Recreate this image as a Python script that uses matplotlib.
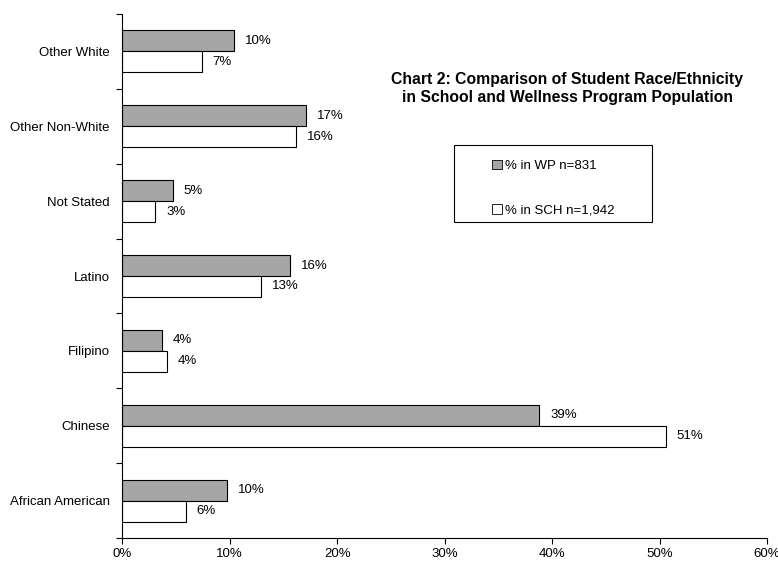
import numpy as np
import matplotlib.pyplot as plt
from matplotlib.patches import Patch, Rectangle

plt.rcParams['font.family'] = ['Liberation Sans', 'DejaVu Sans']

# Données (de bas en haut)
categories = ['African American', 'Chinese', 'Filipino', 'Latino', 'Not Stated',
              'Other Non-White', 'Other White']
wp = [9.8, 38.8, 3.7, 15.6, 4.7, 17.1, 10.4]
sch = [5.9, 50.6, 4.2, 12.9, 3.1, 16.2, 7.4]
wp_label = '% in WP n=831'
sch_label = '% in SCH n=1,942'

fig = plt.figure(figsize=(7.78, 5.61), dpi=100)
ax = fig.add_axes([0.157, 0.041, 0.829, 0.934])

y = np.arange(len(categories))
h = 0.28
ax.barh(y + h / 2, wp, height=h, color='#a6a6a6', edgecolor='black', linewidth=0.8)
ax.barh(y - h / 2, sch, height=h, color='white', edgecolor='black', linewidth=0.8)

for i in range(len(categories)):
    ax.text(wp[i] + 1.0, y[i] + h / 2, '%d%%' % round(wp[i]), va='center', fontsize=9.5)
    ax.text(sch[i] + 1.0, y[i] - h / 2, '%d%%' % round(sch[i]), va='center', fontsize=9.5)

ax.set_xlim(0, 60)
ax.set_ylim(-0.5, len(categories) - 0.5)
ax.set_xticks(np.arange(0, 61, 10))
ax.set_xticklabels(['%d%%' % v for v in range(0, 61, 10)], fontsize=9.5)
ax.set_yticks(y)
ax.set_yticklabels(categories, fontsize=9.5)
ax.tick_params(axis='y', length=0, pad=9)
ax.set_yticks(np.arange(-0.5, len(categories), 1), minor=True)
ax.tick_params(axis='y', which='minor', length=4, width=0.8)
ax.tick_params(axis='x', length=4, width=0.8, pad=3)

for s in ['top', 'right']:
    ax.spines[s].set_visible(False)
ax.spines['left'].set_linewidth(0.8)
ax.spines['bottom'].set_linewidth(0.8)

ax.text(0.69, 0.858, 'Chart 2: Comparison of Student Race/Ethnicity\nin School and Wellness Program Population',
        transform=ax.transAxes, ha='center', va='center', fontsize=11.3, fontweight='bold')

# cadre de la légende
ax.add_patch(Rectangle((0.515, 0.603), 0.307, 0.147, transform=ax.transAxes,
                       facecolor='white', edgecolor='black', linewidth=0.8))
handles = [Patch(facecolor='#a6a6a6', edgecolor='black', linewidth=0.6),
           Patch(facecolor='white', edgecolor='black', linewidth=0.6)]
ax.legend(handles, [wp_label, sch_label], loc='upper left', bbox_to_anchor=(0.574, 0.722),
          fontsize=9.5, frameon=False, handlelength=0.75, handleheight=0.75,
          handletextpad=0.2, labelspacing=2.45, borderpad=0, borderaxespad=0)

plt.savefig('out.png', dpi=100)
